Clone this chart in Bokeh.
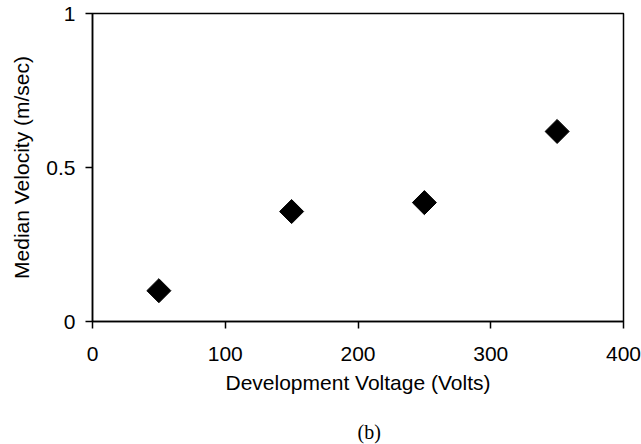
import math

from bokeh.embed import file_html
from bokeh.models import Range1d, FixedTicker, Title
from bokeh.plotting import figure
from bokeh.resources import INLINE

# Median velocity measured at each development voltage
voltage = [50, 150, 250, 350]
median_velocity = [0.10, 0.357, 0.386, 0.617]

x_ticks = [0, 100, 200, 300, 400]
x_tick_labels = ["0", "100", "200", "300", "400"]
y_ticks = [0, 0.5, 1]
y_tick_labels = ["0", "0.5", "1"]

SANS = "Liberation Sans"
SERIF = "Liberation Serif"

p = figure(
    width=641,
    height=444,
    output_backend="svg",
    toolbar_location=None,
    x_range=Range1d(0, 400),
    y_range=Range1d(0, 1),
    min_border_left=92,
    min_border_right=18,
    min_border_top=13,
    min_border_bottom=123,
    background_fill_color="white",
    border_fill_color="white",
)

p.outline_line_color = "black"
p.outline_line_width = 1.5
p.xgrid.visible = False
p.ygrid.visible = False

for ax, ticks, labels in (
    (p.xaxis[0], x_ticks, x_tick_labels),
    (p.yaxis[0], y_ticks, y_tick_labels),
):
    ax.ticker = FixedTicker(ticks=ticks)
    ax.major_label_overrides = {t: lab for t, lab in zip(ticks, labels)}
    ax.minor_tick_line_color = None
    ax.major_tick_in = 0
    ax.major_tick_out = 7
    ax.major_tick_line_width = 1.5
    ax.axis_line_width = 1.5
    ax.axis_line_color = "black"
    ax.major_tick_line_color = "black"
    ax.major_label_text_font = SANS
    ax.major_label_text_font_size = "21px"
    ax.major_label_text_color = "black"
    ax.axis_label_text_font = SANS
    ax.axis_label_text_font_size = "21px"
    ax.axis_label_text_font_style = "normal"
    ax.axis_label_text_color = "black"

p.xaxis.axis_label = "Development Voltage (Volts)"
p.yaxis.axis_label = "Median Velocity (m/sec)"
p.xaxis.major_label_standoff = 18
p.xaxis.axis_label_standoff = 7
p.yaxis.major_label_standoff = 10
p.yaxis.axis_label_standoff = 10

p.scatter(
    voltage,
    median_velocity,
    marker="square",
    angle=math.pi / 4,
    size=17,
    fill_color="black",
    line_color="black",
)

# Sub-figure caption at the foot of the figure; the leading blank line
# leaves a gap under the axis title.
caption = Title(
    text="\n(b)",
    align="left",
    vertical_align="bottom",
    offset=265,
    text_font=SERIF,
    text_font_size="20px",
    text_font_style="normal",
    text_line_height=1.0,
    text_color="black",
    standoff=0,
)
p.add_layout(caption, "below")

open("out.html", "w").write(file_html(p, INLINE))
